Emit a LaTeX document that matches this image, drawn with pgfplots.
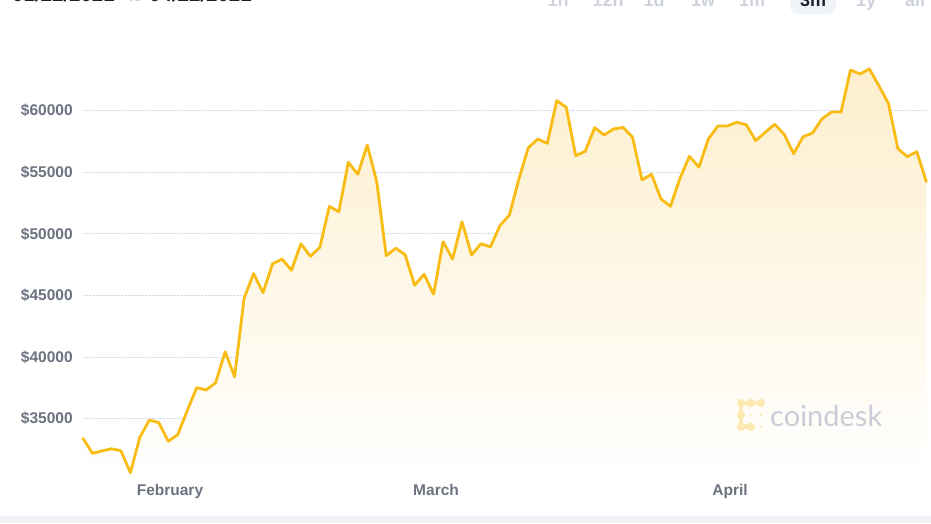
\documentclass[border=0pt]{standalone}
\usepackage{pgfplots}
\pgfplotsset{compat=1.18}
\usepackage{pgfplotstable}
\usepackage{fontspec}
\setmainfont{Liberation Sans}
\newfontfamily\latofont{Lato}
\definecolor{linec}{RGB}{248,188,20}
\definecolor{fillc}{RGB}{253,239,205}
\definecolor{labc}{RGB}{107,114,128}
\definecolor{gridc}{RGB}{212,220,236}
\definecolor{darkc}{RGB}{28,33,45}
\definecolor{lightc}{RGB}{205,210,220}
\definecolor{stripc}{RGB}{240,243,248}
\definecolor{logoc}{RGB}{253,234,178}
\definecolor{wmc}{RGB}{200,205,216}

\pgfplotstableread{
i v
0 33400
1 32190
2 32380
3 32560
4 32400
5 30620
6 33490
7 34890
8 34680
9 33170
10 33700
11 35650
12 37520
13 37330
14 37920
15 40440
16 38410
17 44770
18 46780
19 45230
20 47560
21 47960
22 47050
23 49200
24 48180
25 48910
26 52240
27 51800
28 55810
29 54840
30 57220
31 54240
32 48230
33 48830
34 48310
35 45830
36 46720
37 45100
38 49370
39 47960
40 50990
41 48290
42 49200
43 48940
44 50670
45 51530
46 54460
47 57000
48 57700
49 57350
50 60810
51 60280
52 56350
53 56700
54 58620
55 58030
56 58520
57 58640
58 57840
59 54380
60 54840
61 52830
62 52240
63 54510
64 56300
65 55410
66 57700
67 58760
68 58760
69 59060
70 58860
71 57570
72 58250
73 58900
74 58080
75 56510
76 57890
77 58190
78 59350
79 59890
80 59890
81 63300
82 62980
83 63390
84 62010
85 60600
86 56920
87 56270
88 56670
89 54240
}\btc

\begin{document}
\begin{tikzpicture}
\useasboundingbox (0pt,0pt) rectangle (931pt,523pt);
\fill[stripc] (0pt,0pt) rectangle (931pt,7pt);
% header (cut off at the top, as in the reference)
\node[anchor=base west, inner sep=0, font=\fontsize{20.5}{24}\selectfont\bfseries, text=darkc] at (12pt,521pt) {01/22/2021};
\node[anchor=base, inner sep=0, font=\fontsize{17}{20}\selectfont, text=lightc] at (135.5pt,521pt) {to};
\node[anchor=base west, inner sep=0, font=\fontsize{20.5}{24}\selectfont\bfseries, text=darkc] at (149pt,521pt) {04/22/2021};
\fill[stripc, rounded corners=8pt] (790pt,509pt) rectangle (836pt,540pt);
\foreach \lab/\cx in {1h/558,12h/608,1d/654,1w/703,1m/752,1y/866,all/915}{
  \node[anchor=base, inner sep=0, font=\fontsize{18}{21}\selectfont\bfseries, text=lightc] at (\cx pt,516pt) {\lab};
}
\node[anchor=base, inner sep=0, font=\fontsize{18}{21}\selectfont\bfseries, text=darkc] at (813pt,516pt) {3m};

\begin{axis}[
  at={(83pt,32.85pt)}, anchor=south west,
  width=843.3pt, height=441.05pt, scale only axis,
  xmin=0, xmax=89, ymin=29200, ymax=65000,
  scaled y ticks=false,
  axis line style={draw=none}, tick style={draw=none},
  ytick={35000,40000,45000,50000,55000,60000},
  yticklabels={\$35000,\$40000,\$45000,\$50000,\$55000,\$60000},
  xtick={9.18,37.26,68.29},
  xticklabels={February,March,April},
  ymajorgrids,
  grid style={gridc, densely dotted, line width=0.9pt},
  tick label style={font=\fontsize{15.5}{18}\selectfont\bfseries, text=labc},
  yticklabel style={anchor=east, xshift=-6.8pt},
  xticklabel style={anchor=base, yshift=-5.6pt},
  clip=false,
]
\addplot[draw=none, top color=fillc, bottom color=white, forget plot] table[x=i,y=v]{\btc} -- (axis cs:89,30400) -- (axis cs:0,30400) -- cycle;
\addplot[draw=linec, line width=2.8pt, line join=round, line cap=round, mark=none] table[x=i,y=v]{\btc};
\end{axis}

% watermark
\draw[logoc, line width=4.5pt, line cap=round, line join=round] (761pt,120pt) -- (741pt,120pt) -- (741pt,96.3pt) -- (751pt,96.3pt);
\foreach \px/\py in {741/120,751/120,761/120,741/96.3,751/96.3,741/108}{\fill[logoc] (\px pt,\py pt) circle (4.2pt);}
\foreach \px/\py in {750.5/108,761/108,761/96.3}{\fill[logoc] (\px pt,\py pt) circle (1.4pt);}
\node[anchor=base west, inner sep=0, font=\latofont\fontsize{29}{32}\selectfont, text=wmc] at (770pt,97pt) {coindesk};
\end{tikzpicture}
\end{document}
